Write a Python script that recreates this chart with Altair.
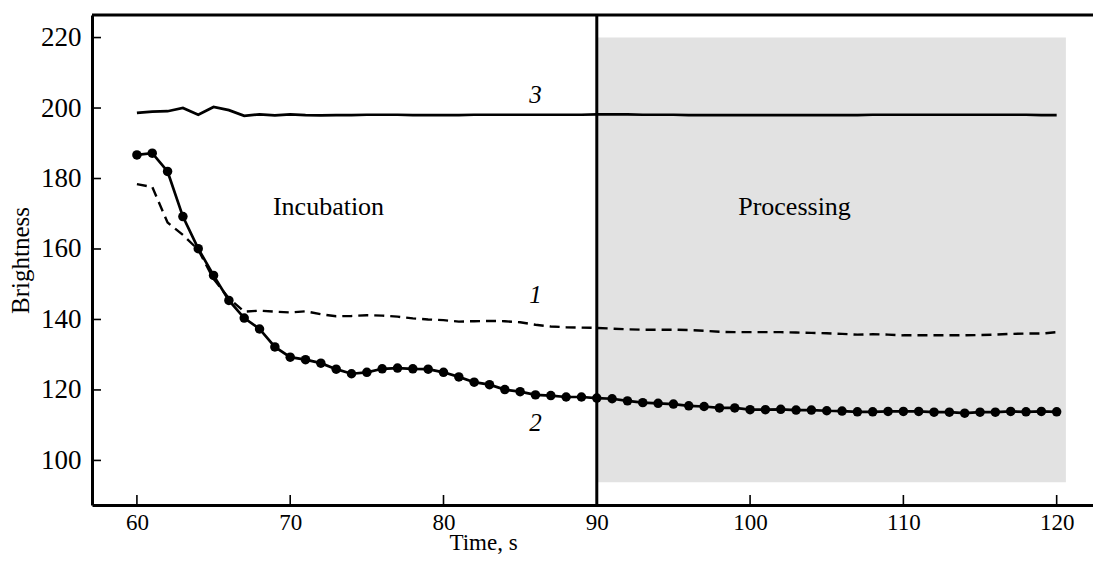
import altair as alt
import pandas as pd

# ---- data ----
times = list(range(60, 121))

curve1 = [178.4, 177.6, 167.5, 164.0, 159.8, 151.5, 146.0, 142.2, 142.5, 142.2,
          142.0, 142.3, 141.5, 140.9, 141.0, 141.2, 141.1, 140.8, 140.3, 140.0,
          139.8, 139.4, 139.5, 139.6, 139.5, 139.2, 138.5, 138.0, 137.8, 137.7,
          137.6, 137.4, 137.2, 137.1, 137.1, 137.1, 137.0, 136.8, 136.5, 136.4,
          136.4, 136.4, 136.4, 136.3, 136.2, 136.1, 135.9, 135.7, 135.8, 135.7,
          135.5, 135.5, 135.5, 135.5, 135.5, 135.6, 135.7, 135.9, 136.0, 136.0,
          136.4]

curve2 = [186.7, 187.2, 182.0, 169.2, 160.1, 152.5, 145.4, 140.4, 137.3, 132.2,
          129.3, 128.6, 127.6, 125.9, 124.6, 125.0, 126.0, 126.2, 126.0, 125.9,
          125.0, 123.7, 122.2, 121.5, 120.1, 119.5, 118.6, 118.4, 118.0, 118.0,
          117.7, 117.5, 116.9, 116.4, 116.2, 116.0, 115.5, 115.3, 114.9, 114.9,
          114.4, 114.4, 114.5, 114.3, 114.3, 114.1, 114.0, 113.8, 113.8, 113.9,
          113.9, 113.9, 113.7, 113.7, 113.4, 113.7, 113.7, 113.9, 113.8, 113.9,
          113.8]

curve3 = [198.6, 199.0, 199.1, 200.0, 198.1, 200.3, 199.4, 197.8, 198.2, 197.9,
          198.2, 198.0, 197.9, 198.0, 198.0, 198.1, 198.1, 198.1, 198.0, 198.0,
          198.0, 198.0, 198.1, 198.1, 198.1, 198.1, 198.1, 198.1, 198.1, 198.1,
          198.2, 198.2, 198.2, 198.1, 198.1, 198.1, 198.0, 198.0, 198.0, 198.0,
          198.0, 198.0, 198.0, 198.0, 198.0, 198.0, 198.0, 198.0, 198.1, 198.1,
          198.1, 198.1, 198.1, 198.1, 198.1, 198.1, 198.1, 198.1, 198.1, 198.0,
          198.0]

x_ticks = [60, 70, 80, 90, 100, 110, 120]
y_ticks = [100, 120, 140, 160, 180, 200, 220]

region_labels = ["Incubation", "Processing"]
region_x = [72.5, 102.9]
region_y = [172.0, 172.0]

curve_labels = ["1", "2", "3"]
curve_label_x = [86.0, 86.0, 86.0]
curve_label_y = [147.0, 110.6, 203.7]

shade_x = [90.0]
shade_x2 = [120.6]
shade_y = [93.8]
shade_y2 = [220.0]
divider_x = [90.0]

X_DOMAIN = [57.07, 122.37]
Y_DOMAIN = [87.35, 226.4]
W, H = 1001, 490
FONT = "Liberation Serif"

df1 = pd.DataFrame({"t": times, "v": curve1})
df2 = pd.DataFrame({"t": times, "v": curve2})
df3 = pd.DataFrame({"t": times, "v": curve3})
df_shade = pd.DataFrame({"x": shade_x, "x2": shade_x2, "y": shade_y, "y2": shade_y2})
df_div = pd.DataFrame({"x": divider_x})
df_reg = pd.DataFrame({"label": region_labels, "x": region_x, "y": region_y})
df_cl = pd.DataFrame({"label": curve_labels, "x": curve_label_x, "y": curve_label_y})
df_xt = pd.DataFrame({"x": x_ticks})
df_yt = pd.DataFrame({"y": y_ticks})
df_one = pd.DataFrame({"k": [0]})

xs = alt.Scale(domain=X_DOMAIN, nice=False, zero=False)
ys = alt.Scale(domain=Y_DOMAIN, nice=False, zero=False)

x_axis = alt.Axis(values=x_ticks, title="Time, s", grid=False, tickSize=0,
                  labelPadding=6, labelFontSize=23, labelFont=FONT, labelColor="black",
                  titleFont=FONT, titleFontSize=23, titleFontWeight="normal", titleColor="black",
                  titleX=391, titleY=44, titleBaseline="alphabetic", titleAlign="center",
                  domainColor="black", domainWidth=3)
y_axis = alt.Axis(values=y_ticks, title="Brightness", grid=False, tickSize=0,
                  labelPadding=11, labelFontSize=27, labelFont=FONT, labelColor="black",
                  titleFont=FONT, titleFontSize=25, titleFontWeight="normal", titleColor="black",
                  titleX=-72, titleY=245, titleBaseline="middle", titleAlign="center",
                  titleAngle=270, domainColor="black", domainWidth=3)

shade = alt.Chart(df_shade).mark_rect(color="#e2e2e2").encode(
    x=alt.X("x:Q", scale=xs, axis=x_axis), x2="x2:Q",
    y=alt.Y("y:Q", scale=ys, axis=y_axis), y2="y2:Q")

divider = alt.Chart(df_div).mark_rule(color="black", strokeWidth=3).encode(
    x=alt.X("x:Q", scale=xs), y=alt.value(0), y2=alt.value(H))

line1 = alt.Chart(df1).mark_line(color="black", strokeWidth=2.4, strokeDash=[10, 6]).encode(
    x=alt.X("t:Q", scale=xs), y=alt.Y("v:Q", scale=ys))
line2 = alt.Chart(df2).mark_line(color="black", strokeWidth=2.7).encode(
    x=alt.X("t:Q", scale=xs), y=alt.Y("v:Q", scale=ys))
pts2 = alt.Chart(df2).mark_point(filled=True, color="black", size=90, opacity=1).encode(
    x=alt.X("t:Q", scale=xs), y=alt.Y("v:Q", scale=ys))
line3 = alt.Chart(df3).mark_line(color="black", strokeWidth=2.7).encode(
    x=alt.X("t:Q", scale=xs), y=alt.Y("v:Q", scale=ys))

reg_text = alt.Chart(df_reg).mark_text(font=FONT, fontSize=26, color="black").encode(
    x=alt.X("x:Q", scale=xs), y=alt.Y("y:Q", scale=ys), text="label:N")
cl_text = alt.Chart(df_cl).mark_text(font=FONT, fontSize=25, fontStyle="italic", color="black").encode(
    x=alt.X("x:Q", scale=xs), y=alt.Y("y:Q", scale=ys), text="label:N")

xt = alt.Chart(df_xt).mark_rule(color="black", strokeWidth=1.6).encode(
    x=alt.X("x:Q", scale=xs), y=alt.value(H - 10), y2=alt.value(H))
yt = alt.Chart(df_yt).mark_rule(color="black", strokeWidth=1.6).encode(
    y=alt.Y("y:Q", scale=ys), x=alt.value(0), x2=alt.value(9))
top_frame = alt.Chart(df_one).mark_rule(color="black", strokeWidth=3).encode(
    y=alt.value(0), x=alt.value(0), x2=alt.value(W))

chart = alt.layer(shade, divider, line1, line2, pts2, line3, reg_text, cl_text, xt, yt, top_frame).properties(
    width=W, height=H,
    autosize=alt.AutoSizeParams(type="none"),
    padding={"left": 84, "top": 7, "right": 0, "bottom": 50},
).configure_view(stroke=None).configure(background="white")

chart.save("out.html", embed_options={"renderer": "svg", "actions": False})
